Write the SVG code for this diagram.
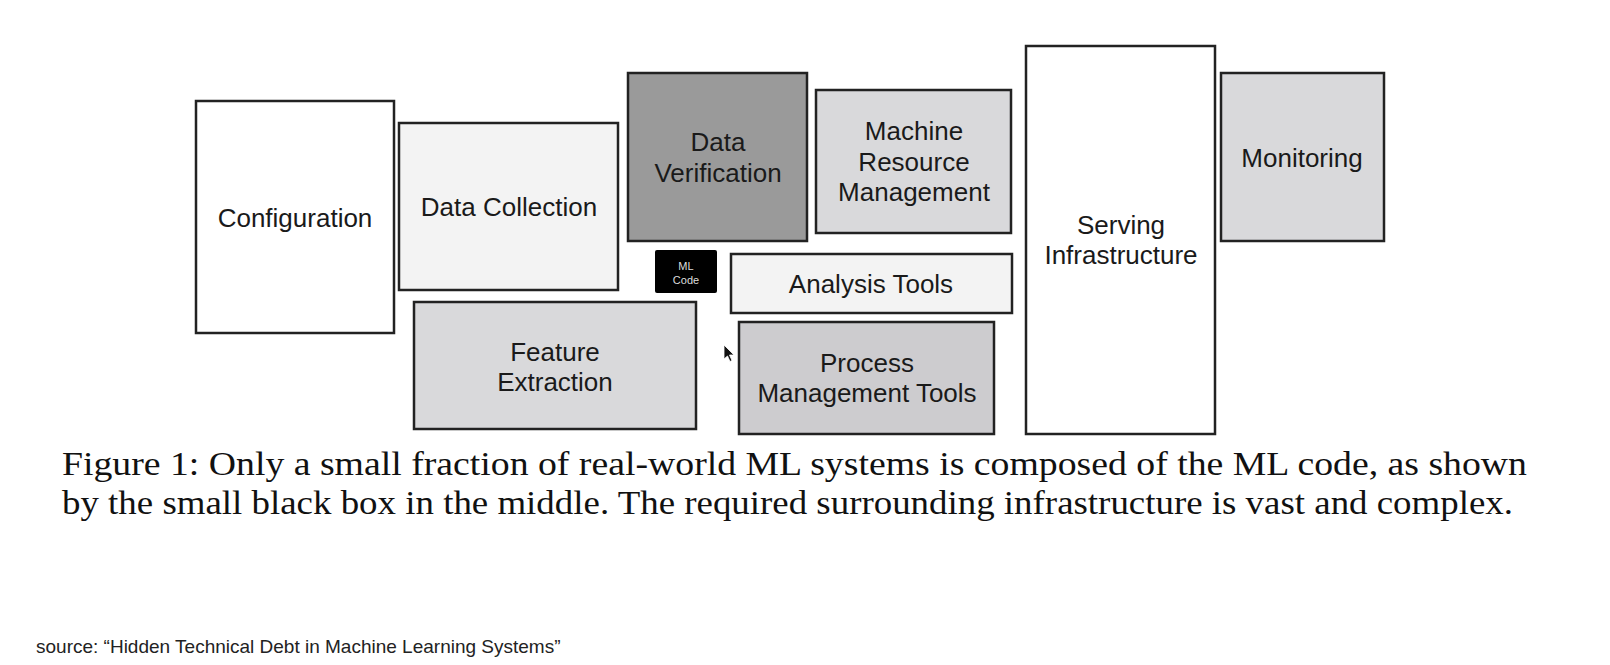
<svg xmlns="http://www.w3.org/2000/svg" width="1610" height="665" viewBox="0 0 1610 665">
<style>
.box{stroke:#222;stroke-width:2.5}
.lbl{font-family:"Liberation Sans",Arial,sans-serif;font-size:26px;fill:#1a1a1a;text-anchor:middle}
.cap{font-family:"Liberation Serif","Times New Roman",serif;font-size:34px;fill:#111}
.src{font-family:"Liberation Sans",Arial,sans-serif;font-size:19px;fill:#222}
</style>
<rect width="1610" height="665" fill="#ffffff"/>
<g id="configuration">
<rect class="box" x="196" y="101" width="198" height="232" fill="#ffffff"/>
<text class="lbl" x="295" y="227">Configuration</text>
</g>
<g id="data-collection">
<rect class="box" x="399" y="123" width="219" height="167" fill="#f3f3f3"/>
<text class="lbl" x="509" y="216">Data Collection</text>
</g>
<g id="feature-extraction">
<rect class="box" x="414" y="302" width="282" height="127" fill="#d9d9db"/>
<text class="lbl" x="555" y="361">Feature</text>
<text class="lbl" x="555" y="391">Extraction</text>
</g>
<g id="data-verification">
<rect class="box" x="628" y="73" width="179" height="168" fill="#9a9a9a"/>
<text class="lbl" x="718" y="151">Data</text>
<text class="lbl" x="718" y="182">Verification</text>
</g>
<g id="machine-resource-management">
<rect class="box" x="816" y="90" width="195" height="143" fill="#d9d9db"/>
<text class="lbl" x="914" y="140">Machine</text>
<text class="lbl" x="914" y="171">Resource</text>
<text class="lbl" x="914" y="201">Management</text>
</g>
<g id="ml-code">
<rect x="655" y="250" width="62" height="43" rx="2" fill="#000000"/>
<text x="686" y="270" font-family="Liberation Sans,Arial,sans-serif" font-size="11" fill="#dddddd" text-anchor="middle">ML</text>
<text x="686" y="284" font-family="Liberation Sans,Arial,sans-serif" font-size="11" fill="#dddddd" text-anchor="middle">Code</text>
</g>
<g id="analysis-tools">
<rect class="box" x="731" y="254" width="281" height="59" fill="#f3f3f3"/>
<text class="lbl" x="871" y="293">Analysis Tools</text>
</g>
<g id="process-management-tools">
<rect class="box" x="739" y="322" width="255" height="112" fill="#cdcccf"/>
<text class="lbl" x="867" y="372">Process</text>
<text class="lbl" x="867" y="402">Management Tools</text>
</g>
<g id="serving-infrastructure">
<rect class="box" x="1026" y="46" width="189" height="388" fill="#ffffff"/>
<text class="lbl" x="1121" y="234">Serving</text>
<text class="lbl" x="1121" y="264">Infrastructure</text>
</g>
<g id="monitoring">
<rect class="box" x="1221" y="73" width="163" height="168" fill="#d9d9db"/>
<text class="lbl" x="1302" y="167">Monitoring</text>
</g>
<g id="connectors"></g>
<path d="M724 345 L724 359 L727.5 356 L730 361.5 L732 360.5 L729.5 355 L734 355 Z" fill="#111" stroke="#fff" stroke-width="0.8"/>
<text class="cap" x="62" y="474.5" textLength="1465" lengthAdjust="spacingAndGlyphs">Figure 1: Only a small fraction of real-world ML systems is composed of the ML code, as shown</text>
<text class="cap" x="62" y="514" textLength="1451" lengthAdjust="spacingAndGlyphs">by the small black box in the middle. The required surrounding infrastructure is vast and complex.</text>
<text class="src" x="36" y="653">source: “Hidden Technical Debt in Machine Learning Systems”</text>
</svg>
